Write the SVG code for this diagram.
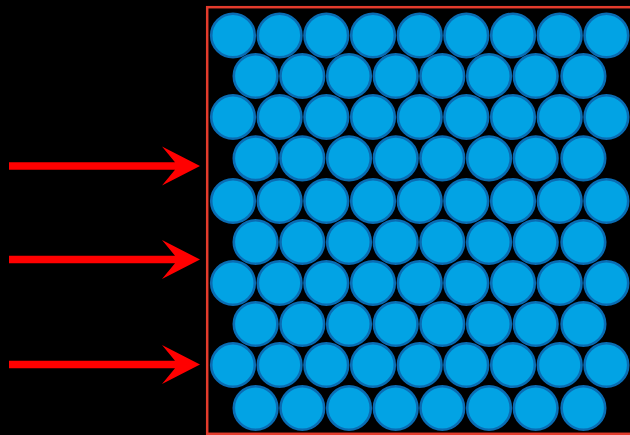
<svg xmlns="http://www.w3.org/2000/svg" width="630" height="435" viewBox="0 0 630 435">
<style>
.b{fill:#02a3e4;stroke:#0a6cb3;stroke-width:2.6}
.ar{fill:#ff0000}
</style>
<defs>
<polygon id="arrow" points="9,-3.8 175,-3.8 162,-19.5 200,0 162,19.5 175,3.8 9,3.8"/>
</defs>
<rect x="0" y="0" width="630" height="435" fill="#000"/>
<g id="container"><rect x="207.2" y="7.2" width="430" height="426.6" fill="none" stroke="#e33b2c" stroke-width="2.5"/></g>
<g id="balls">
<g id="r1"><circle class="b" cx="233" cy="35.5" r="21.8"/><circle class="b" cx="279.6" cy="35.5" r="21.8"/><circle class="b" cx="326.3" cy="35.5" r="21.8"/><circle class="b" cx="373" cy="35.5" r="21.8"/><circle class="b" cx="419.7" cy="35.5" r="21.8"/><circle class="b" cx="466.3" cy="35.5" r="21.8"/><circle class="b" cx="513" cy="35.5" r="21.8"/><circle class="b" cx="559.7" cy="35.5" r="21.8"/><circle class="b" cx="606.4" cy="35.5" r="21.8"/></g>
<g id="r2"><circle class="b" cx="255.6" cy="76" r="21.8"/><circle class="b" cx="302.3" cy="76" r="21.8"/><circle class="b" cx="349" cy="76" r="21.8"/><circle class="b" cx="395.7" cy="76" r="21.8"/><circle class="b" cx="442.3" cy="76" r="21.8"/><circle class="b" cx="489" cy="76" r="21.8"/><circle class="b" cx="535.7" cy="76" r="21.8"/><circle class="b" cx="583.4" cy="76" r="21.8"/></g>
<g id="r3"><circle class="b" cx="233" cy="117" r="21.8"/><circle class="b" cx="279.6" cy="117" r="21.8"/><circle class="b" cx="326.3" cy="117" r="21.8"/><circle class="b" cx="373" cy="117" r="21.8"/><circle class="b" cx="419.7" cy="117" r="21.8"/><circle class="b" cx="466.3" cy="117" r="21.8"/><circle class="b" cx="513" cy="117" r="21.8"/><circle class="b" cx="559.7" cy="117" r="21.8"/><circle class="b" cx="606.4" cy="117" r="21.8"/></g>
<g id="r4"><circle class="b" cx="255.6" cy="158.3" r="21.8"/><circle class="b" cx="302.3" cy="158.3" r="21.8"/><circle class="b" cx="349" cy="158.3" r="21.8"/><circle class="b" cx="395.7" cy="158.3" r="21.8"/><circle class="b" cx="442.3" cy="158.3" r="21.8"/><circle class="b" cx="489" cy="158.3" r="21.8"/><circle class="b" cx="535.7" cy="158.3" r="21.8"/><circle class="b" cx="583.4" cy="158.3" r="21.8"/></g>
<g id="r5"><circle class="b" cx="233" cy="201" r="21.8"/><circle class="b" cx="279.6" cy="201" r="21.8"/><circle class="b" cx="326.3" cy="201" r="21.8"/><circle class="b" cx="373" cy="201" r="21.8"/><circle class="b" cx="419.7" cy="201" r="21.8"/><circle class="b" cx="466.3" cy="201" r="21.8"/><circle class="b" cx="513" cy="201" r="21.8"/><circle class="b" cx="559.7" cy="201" r="21.8"/><circle class="b" cx="606.4" cy="201" r="21.8"/></g>
<g id="r6"><circle class="b" cx="255.6" cy="242" r="21.8"/><circle class="b" cx="302.3" cy="242" r="21.8"/><circle class="b" cx="349" cy="242" r="21.8"/><circle class="b" cx="395.7" cy="242" r="21.8"/><circle class="b" cx="442.3" cy="242" r="21.8"/><circle class="b" cx="489" cy="242" r="21.8"/><circle class="b" cx="535.7" cy="242" r="21.8"/><circle class="b" cx="583.4" cy="242" r="21.8"/></g>
<g id="r7"><circle class="b" cx="233" cy="283" r="21.8"/><circle class="b" cx="279.6" cy="283" r="21.8"/><circle class="b" cx="326.3" cy="283" r="21.8"/><circle class="b" cx="373" cy="283" r="21.8"/><circle class="b" cx="419.7" cy="283" r="21.8"/><circle class="b" cx="466.3" cy="283" r="21.8"/><circle class="b" cx="513" cy="283" r="21.8"/><circle class="b" cx="559.7" cy="283" r="21.8"/><circle class="b" cx="606.4" cy="283" r="21.8"/></g>
<g id="r8"><circle class="b" cx="255.6" cy="324" r="21.8"/><circle class="b" cx="302.3" cy="324" r="21.8"/><circle class="b" cx="349" cy="324" r="21.8"/><circle class="b" cx="395.7" cy="324" r="21.8"/><circle class="b" cx="442.3" cy="324" r="21.8"/><circle class="b" cx="489" cy="324" r="21.8"/><circle class="b" cx="535.7" cy="324" r="21.8"/><circle class="b" cx="583.4" cy="324" r="21.8"/></g>
<g id="r9"><circle class="b" cx="233" cy="365" r="21.8"/><circle class="b" cx="279.6" cy="365" r="21.8"/><circle class="b" cx="326.3" cy="365" r="21.8"/><circle class="b" cx="373" cy="365" r="21.8"/><circle class="b" cx="419.7" cy="365" r="21.8"/><circle class="b" cx="466.3" cy="365" r="21.8"/><circle class="b" cx="513" cy="365" r="21.8"/><circle class="b" cx="559.7" cy="365" r="21.8"/><circle class="b" cx="606.4" cy="365" r="21.8"/></g>
<g id="r10"><circle class="b" cx="255.6" cy="408" r="21.8"/><circle class="b" cx="302.3" cy="408" r="21.8"/><circle class="b" cx="349" cy="408" r="21.8"/><circle class="b" cx="395.7" cy="408" r="21.8"/><circle class="b" cx="442.3" cy="408" r="21.8"/><circle class="b" cx="489" cy="408" r="21.8"/><circle class="b" cx="535.7" cy="408" r="21.8"/><circle class="b" cx="583.4" cy="408" r="21.8"/></g>
</g>
<g id="connectors">
<use href="#arrow" class="ar" y="166"/>
<use href="#arrow" class="ar" y="259.5"/>
<use href="#arrow" class="ar" y="364.5"/>
</g>
</svg>
